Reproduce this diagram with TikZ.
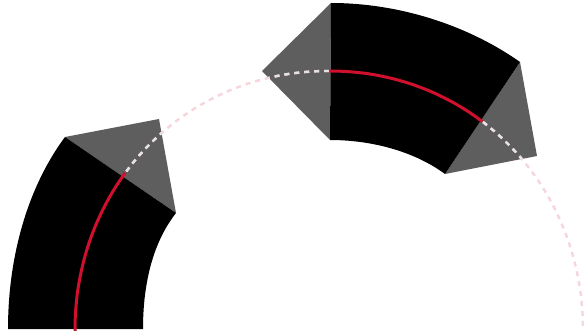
\documentclass[tikz,border=0pt]{standalone}
\definecolor{capgray}{HTML}{5E5E5E}
\definecolor{trackred}{HTML}{D0102C}
\definecolor{faintpink}{HTML}{F6D6DA}
\definecolor{lightdash}{HTML}{E6E2E2}
\tikzset{
  declare function={
    ex(\t,\a)=329+\a*sign(cos(\t))*pow(abs(cos(\t)),0.98);
    ey(\t,\b)=331-\b*pow(abs(sin(\t))+0.00001,0.98);
  },
  capshape/.style={fill=capgray,draw=none},
  bodyshape/.style={fill=black,draw=none},
  guide/.style={line width=2.4pt,dash pattern=on 5pt off 5pt},
  redline/.style={draw=trackred,line width=3pt}
}
\newcommand{\guidepath}{plot[domain=179.9:0.1,samples=120,smooth] ({ex(\x,254)},{ey(\x,260)})}
\begin{document}
\begin{tikzpicture}[x=1pt,y=-1pt]
\useasboundingbox (0,0) rectangle (584,331);
\fill[white] (0,0) rectangle (584,331);
% grey tips
\fill[capshape] (65,137) -- (159,119) -- (176,213) -- cycle;
\fill[capshape] (331,3) -- (262,71) -- (330,140) -- cycle;
\fill[capshape] (520,62) -- (537,156) -- (445,174) -- cycle;
% dashed guide circle: faint on the paper, lighter across the grey tips
\draw[guide,draw=faintpink] \guidepath;
\begin{scope}
\clip (65,137) -- (159,119) -- (176,213) -- cycle
      (331,3) -- (262,71) -- (330,140) -- cycle
      (520,62) -- (537,156) -- (445,174) -- cycle;
\draw[guide,draw=lightdash] \guidepath;
\end{scope}
% black bodies
\fill[bodyshape] (8,329) .. controls (8,262) and (25,191) .. (65,137) -- (176,213) .. controls (151,245) and (143,288) .. (143,329) -- cycle;
\fill[bodyshape] (331,3) .. controls (397,3) and (466,24) .. (520,62) -- (445,174) .. controls (413,150.5) and (370,140) .. (330,140) -- cycle;
% red centre lines
\draw[redline] plot[domain=180:143,samples=30,smooth] ({ex(\x,254)},{ey(\x,260)});
\draw[redline] plot[domain=90:53.3,samples=30,smooth] ({ex(\x,254)},{ey(\x,260)});
\end{tikzpicture}
\end{document}
